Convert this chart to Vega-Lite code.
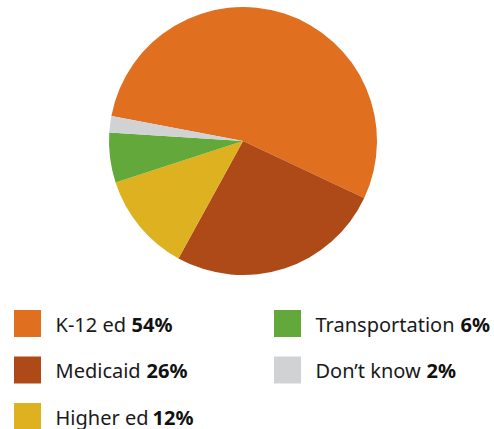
{
  "$schema": "https://vega.github.io/schema/vega-lite/v6.json",
  "padding": 0,
  "spacing": 0,
  "background": "white",
  "config": {"view": {"stroke": null}, "font": "Noto Sans"},
  "datasets": {
    "items": [
      {"name": "K-12 ed", "pct": 54, "label": "54%", "ord": 1, "col": 1, "row": 1},
      {"name": "Medicaid", "pct": 26, "label": "26%", "ord": 2, "col": 1, "row": 2},
      {"name": "Higher ed", "pct": 12, "label": "12%", "ord": 3, "col": 1, "row": 3},
      {"name": "Transportation", "pct": 6, "label": "6%", "ord": 4, "col": 2, "row": 1},
      {"name": "Don’t know", "pct": 2, "label": "2%", "ord": 5, "col": 2, "row": 2}
    ]
  },
  "vconcat": [
    {
      "width": 486,
      "height": 282,
      "data": {"name": "items"},
      "mark": {"type": "arc", "outerRadius": 134},
      "encoding": {
        "theta": {"field": "pct", "type": "quantitative", "stack": true, "scale": {"range": [-1.3823, 4.9009]}},
        "color": {
          "field": "name", "type": "nominal", "legend": null,
          "scale": {"domain": ["K-12 ed", "Medicaid", "Higher ed", "Transportation", "Don’t know"],
                    "range": ["#E07020", "#AD4A17", "#DDB120", "#62A83A", "#D1D2D4"]}
        },
        "order": {"field": "ord", "type": "quantitative"}
      }
    },
    {
      "width": 494,
      "height": 147,
      "data": {"name": "items"},
      "encoding": {
        "x": {"field": "col", "type": "ordinal", "axis": null, "scale": {"type": "point", "padding": 0, "range": [27.5, 287.5]}},
        "y": {"field": "row", "type": "ordinal", "axis": null, "scale": {"type": "point", "padding": 0, "range": [41.5, 134.5]}}
      },
      "layer": [
        {
          "mark": {"type": "point", "shape": "square", "filled": true, "opacity": 1, "size": 729, "strokeWidth": 0},
          "encoding": {
            "color": {
              "field": "name", "type": "nominal", "legend": null,
              "scale": {"domain": ["K-12 ed", "Medicaid", "Higher ed", "Transportation", "Don’t know"],
                        "range": ["#E07020", "#AD4A17", "#DDB120", "#62A83A", "#D1D2D4"]}
            }
          }
        },
        {
          "mark": {"type": "text", "align": "left", "baseline": "alphabetic", "dx": 28, "dy": 8, "fontSize": 20, "color": "#1a1a1a"},
          "encoding": {"text": {"field": "name"}}
        },
        {
          "transform": [{"filter": "datum.ord == 1"}],
          "mark": {"type": "text", "align": "left", "baseline": "alphabetic", "dx": 104, "dy": 8, "fontSize": 20, "fontWeight": "bold", "color": "#111111"},
          "encoding": {"text": {"field": "label"}}
        },
        {
          "transform": [{"filter": "datum.ord == 2"}],
          "mark": {"type": "text", "align": "left", "baseline": "alphabetic", "dx": 119, "dy": 8, "fontSize": 20, "fontWeight": "bold", "color": "#111111"},
          "encoding": {"text": {"field": "label"}}
        },
        {
          "transform": [{"filter": "datum.ord == 3"}],
          "mark": {"type": "text", "align": "left", "baseline": "alphabetic", "dx": 125, "dy": 8, "fontSize": 20, "fontWeight": "bold", "color": "#111111"},
          "encoding": {"text": {"field": "label"}}
        },
        {
          "transform": [{"filter": "datum.ord == 4"}],
          "mark": {"type": "text", "align": "left", "baseline": "alphabetic", "dx": 173, "dy": 8, "fontSize": 20, "fontWeight": "bold", "color": "#111111"},
          "encoding": {"text": {"field": "label"}}
        },
        {
          "transform": [{"filter": "datum.ord == 5"}],
          "mark": {"type": "text", "align": "left", "baseline": "alphabetic", "dx": 139, "dy": 8, "fontSize": 20, "fontWeight": "bold", "color": "#111111"},
          "encoding": {"text": {"field": "label"}}
        }
      ]
    }
  ]
}
